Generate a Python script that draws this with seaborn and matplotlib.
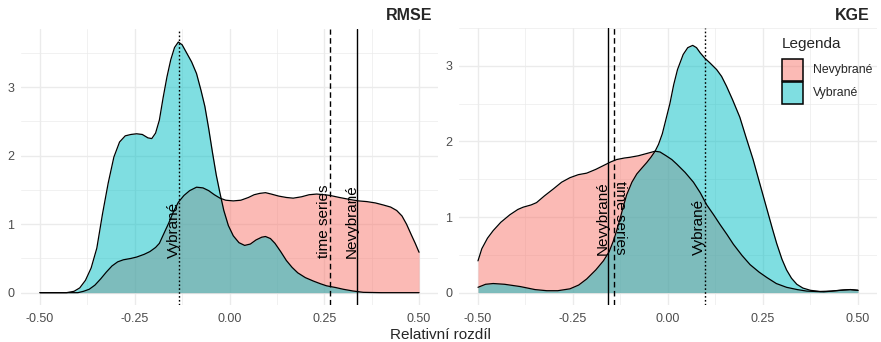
import numpy as np
import pandas as pd
import matplotlib
matplotlib.use("Agg")
import matplotlib.pyplot as plt
from matplotlib.patches import Rectangle
from matplotlib.colors import to_rgba
import seaborn as sns

# ---------------- data ----------------
rmse_vyb_x = [-0.5, -0.43, -0.41, -0.395, -0.38, -0.365, -0.35, -0.335, -0.32, -0.305,
              -0.29, -0.275, -0.26, -0.245, -0.23, -0.215, -0.205, -0.195, -0.185, -0.175,
              -0.165, -0.155, -0.145, -0.135, -0.125, -0.113, -0.1, -0.087, -0.075, -0.065,
              -0.055, -0.045, -0.035, -0.025, -0.015, -0.003, 0.01, 0.025, 0.04, 0.055,
              0.07, 0.085, 0.095, 0.108, 0.12, 0.135, 0.15, 0.165, 0.18, 0.2,
              0.221, 0.24, 0.256, 0.28, 0.30, 0.325, 0.353, 0.4, 0.5]
rmse_vyb_y = [0, 0, 0.02, 0.07, 0.18, 0.36, 0.65, 1.15, 1.6, 1.98,
              2.2, 2.29, 2.31, 2.32, 2.31, 2.26, 2.25, 2.33, 2.52, 2.85,
              3.15, 3.4, 3.58, 3.66, 3.62, 3.5, 3.37, 3.2, 2.95, 2.72,
              2.4, 2.05, 1.72, 1.45, 1.2, 0.98, 0.83, 0.73, 0.69, 0.71,
              0.77, 0.81, 0.82, 0.79, 0.72, 0.6, 0.47, 0.37, 0.29, 0.22,
              0.17, 0.13, 0.10, 0.075, 0.05, 0.025, 0.005, 0, 0]

rmse_nev_x = [-0.5, -0.40, -0.385, -0.37, -0.355, -0.34, -0.325, -0.31, -0.295, -0.28,
              -0.26, -0.245, -0.225, -0.21, -0.195, -0.185, -0.175, -0.16, -0.148, -0.135,
              -0.12, -0.105, -0.087, -0.07, -0.055, -0.04, -0.025, -0.01, 0.01, 0.03,
              0.05, 0.065, 0.08, 0.095, 0.11, 0.13, 0.15, 0.168, 0.19, 0.21,
              0.23, 0.25, 0.265, 0.29, 0.318, 0.34, 0.362, 0.385, 0.406, 0.425,
              0.441, 0.455, 0.467, 0.48, 0.49, 0.5]
rmse_nev_y = [0, 0, 0.02, 0.05, 0.11, 0.2, 0.3, 0.39, 0.45, 0.48,
              0.5, 0.52, 0.56, 0.6, 0.66, 0.72, 0.84, 1.02, 1.18, 1.32,
              1.42, 1.49, 1.54, 1.53, 1.49, 1.43, 1.38, 1.35, 1.34, 1.35,
              1.39, 1.43, 1.45, 1.46, 1.44, 1.41, 1.39, 1.38, 1.40, 1.43,
              1.44, 1.43, 1.42, 1.39, 1.36, 1.34, 1.33, 1.31, 1.28, 1.25,
              1.20, 1.12, 1.0, 0.84, 0.72, 0.59]

kge_vyb_x = [-0.5, -0.48, -0.46, -0.43, -0.389, -0.35, -0.319, -0.29, -0.258, -0.235,
             -0.214, -0.19, -0.17, -0.155, -0.144, -0.135, -0.126, -0.117, -0.109, -0.095,
             -0.082, -0.07, -0.056, -0.045, -0.034, -0.025, -0.015, -0.005, 0.005, 0.015,
             0.025, 0.04, 0.052, 0.065, 0.075, 0.085, 0.097, 0.11, 0.128, 0.141,
             0.154, 0.17, 0.189, 0.205, 0.224, 0.24, 0.26, 0.275, 0.286, 0.3,
             0.312, 0.325, 0.339, 0.355, 0.375, 0.4, 0.43, 0.461, 0.48, 0.5]
kge_vyb_y = [0.07, 0.11, 0.12, 0.11, 0.08, 0.04, 0.025, 0.025, 0.05, 0.1,
             0.18, 0.3, 0.42, 0.54, 0.68, 0.82, 0.98, 1.15, 1.29, 1.46,
             1.57, 1.64, 1.72, 1.79, 1.87, 1.96, 2.1, 2.3, 2.5, 2.75,
             2.95, 3.15, 3.24, 3.27, 3.24, 3.17, 3.1, 3.04, 2.95, 2.86,
             2.73, 2.55, 2.32, 2.06, 1.76, 1.47, 1.11, 0.84, 0.65, 0.44,
             0.3, 0.19, 0.11, 0.06, 0.03, 0.015, 0.02, 0.035, 0.04, 0.03]

kge_nev_x = [-0.5, -0.49, -0.475, -0.46, -0.44, -0.416, -0.395, -0.381, -0.36, -0.346,
             -0.325, -0.302, -0.28, -0.258, -0.236, -0.214, -0.19, -0.17, -0.15, -0.135,
             -0.115, -0.1, -0.078, -0.056, -0.034, -0.021, -0.005, 0.01, 0.023, 0.045,
             0.067, 0.085, 0.102, 0.12, 0.137, 0.155, 0.172, 0.195, 0.216, 0.24,
             0.26, 0.285, 0.312, 0.34, 0.365, 0.41, 0.454, 0.48, 0.5]
kge_nev_y = [0.42, 0.58, 0.72, 0.82, 0.93, 1.03, 1.1, 1.13, 1.16, 1.19,
             1.28, 1.37, 1.46, 1.52, 1.56, 1.58, 1.63, 1.68, 1.73, 1.76,
             1.78, 1.79, 1.81, 1.84, 1.87, 1.86, 1.81, 1.76, 1.70, 1.59,
             1.46, 1.32, 1.16, 1.03, 0.90, 0.77, 0.64, 0.49, 0.37, 0.27,
             0.2, 0.12, 0.07, 0.04, 0.02, 0.01, 0.03, 0.04, 0.03]

groups = ["Nevybrané", "Vybrané"]
group_colors = ["#F8766D", "#00BFC4"]

rmse_lines_x = [-0.133, 0.265, 0.336]
kge_lines_x = [0.097, -0.142, -0.158]
line_labels = ["Vybrané", "time series", "Nevybrané"]
line_styles = [(0, (1.2, 1.6)), (0, (4, 2.5)), "-"]

panel_titles = ["RMSE", "KGE"]
x_ticks = [-0.50, -0.25, 0.00, 0.25, 0.50]
x_ticklabels = ["-0.50", "-0.25", "0.00", "0.25", "0.50"]
y_ticks = [0, 1, 2, 3]

# ---------------- style ----------------
sns.set_theme(style="whitegrid")
plt.rcParams["font.family"] = ["Liberation Sans", "DejaVu Sans"]

W, H = 881, 342
fig = plt.figure(figsize=(W / 100, H / 100), dpi=100)

def fpos(x0, x1, ytop, ybot):
    return [x0 / W, 1 - ybot / H, (x1 - x0) / W, (ybot - ytop) / H]

ax1 = fig.add_axes(fpos(21, 438, 29, 305))
ax2 = fig.add_axes(fpos(459, 877, 28, 305))

def draw_panel(ax, curves, vlines, ylim, text_rot):
    for (cx, cy), col, name in zip(curves, group_colors, groups):
        df = pd.DataFrame({"x": cx, "y": cy})
        ax.fill_between(df["x"], 0, df["y"], color=col, alpha=0.5, linewidth=0, zorder=2)
        sns.lineplot(data=df, x="x", y="y", ax=ax, color="black", linewidth=0.9,
                     sort=False, zorder=3, estimator=None)
    for xv, lab, ls, rot in zip(vlines, line_labels, line_styles, text_rot):
        ax.axvline(xv, color="black", linestyle=ls, linewidth=1.0, zorder=4)
        if rot == 90:
            ax.text(xv + 0.004, 0.5, lab, rotation=90, ha="right", va="bottom",
                    fontsize=11, color="black", zorder=5)
        else:
            ax.text(xv - 0.002, 0.5, lab, rotation=270, ha="left", va="bottom",
                    fontsize=11, color="black", zorder=5)
    ax.set_xlim(-0.55, 0.55)
    ax.set_ylim(*ylim)
    ax.set_xticks(x_ticks)
    ax.set_xticklabels(x_ticklabels)
    ax.set_yticks(y_ticks)
    ax.set_xticks([-0.375, -0.125, 0.125, 0.375], minor=True)
    ax.set_yticks([0.5, 1.5, 2.5, 3.5], minor=True)
    ax.grid(which="major", color="#EBEBEB", linewidth=1.0)
    ax.grid(which="minor", color="#EBEBEB", linewidth=0.5)
    ax.set_axisbelow(True)
    for s in ax.spines.values():
        s.set_visible(False)
    ax.tick_params(axis="both", which="both", length=0, labelsize=9,
                   labelcolor="#4D4D4D")
    ax.tick_params(axis="x", pad=6)
    ax.tick_params(axis="y", pad=5)
    ax.set_xlabel("")
    ax.set_ylabel("")
    ax.set_facecolor("white")

draw_panel(ax1, [(rmse_nev_x, rmse_nev_y), (rmse_vyb_x, rmse_vyb_y)],
           rmse_lines_x, (-0.18, 3.85), [90, 90, 90])
draw_panel(ax2, [(kge_nev_x, kge_nev_y), (kge_vyb_x, kge_vyb_y)],
           kge_lines_x, (-0.164, 3.444), [90, 270, 90])

# panel titles
fig.text(432 / W, 1 - 16 / H, panel_titles[0], ha="right", va="center",
         fontsize=11.5, fontweight="bold")
fig.text(870 / W, 1 - 16 / H, panel_titles[1], ha="right", va="center",
         fontsize=11.5, fontweight="bold")

# ---------------- legend (inside the right panel) ----------------
fig.text(782 / W, 1 - 44 / H, "Legenda", ha="left", va="center", fontsize=11)
key_tops = [59, 82]
for top, col, name in zip(key_tops, group_colors, groups):
    fig.add_artist(Rectangle((782 / W, 1 - (top + 22) / H), 21 / W, 22 / H,
                             facecolor=to_rgba(col, 0.5), edgecolor="black",
                             linewidth=1.1, transform=fig.transFigure, zorder=10))
    fig.text(813 / W, 1 - (top + 11) / H, name, ha="left", va="center", fontsize=8.8)

fig.text(440 / W, 1 - 335 / H, "Relativní rozdíl", ha="center", va="center", fontsize=11)

fig.savefig("out.png", dpi=100, facecolor="white")
